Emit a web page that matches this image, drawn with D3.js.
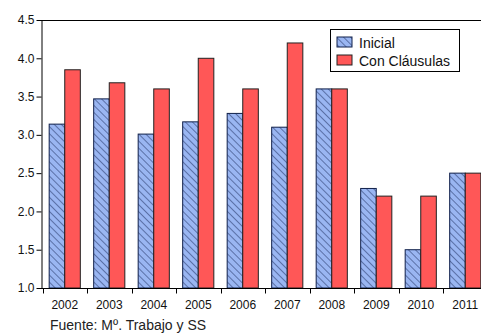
<!DOCTYPE html>
<html>
<head>
<meta charset="utf-8">
<script src="https://cdn.jsdelivr.net/npm/d3@7"></script>
<style>
  html, body { margin: 0; padding: 0; background: #fff; overflow: hidden; }
  svg { display: block; font-family: "Liberation Sans", Arial, sans-serif; }
</style>
</head>
<body>
<script>
// Yearly values for the two series
const years = ["2002","2003","2004","2005","2006","2007","2008","2009","2010","2011"];
const inicial = [3.14, 3.47, 3.01, 3.17, 3.28, 3.10, 3.60, 2.30, 1.50, 2.50];
const conClausulas = [3.85, 3.68, 3.60, 4.00, 3.60, 4.20, 3.60, 2.20, 2.20, 2.50];
const seriesNames = ["Inicial", "Con Cláusulas"];
const yTicks = [1.0, 1.5, 2.0, 2.5, 3.0, 3.5, 4.0, 4.5];

const W = 481, H = 333;
const margin = { left: 41, top: 20, bottom: 45 };
const bandStart = 1.5, bandStep = 44.5;
const plotW = W - margin.left + 10;
const plotH = H - margin.top - margin.bottom;

const svg = d3.select("body").append("svg").attr("width", W).attr("height", H);

// Diagonal hatch for the "Inicial" series
const defs = svg.append("defs");
const pat = defs.append("pattern")
  .attr("id", "hatch").attr("patternUnits", "userSpaceOnUse")
  .attr("width", 5).attr("height", 5)
  .attr("patternTransform", "rotate(45)");
pat.append("rect").attr("width", 5).attr("height", 5).attr("fill", "#9ab6f2");
pat.append("line").attr("x1", 0).attr("y1", 0).attr("x2", 5).attr("y2", 0)
  .attr("stroke", "#1a2a5a").attr("stroke-width", 1);

const g = svg.append("g").attr("transform", `translate(${margin.left},${margin.top})`);

const x = d3.scaleBand().domain(years)
  .range([bandStart, bandStart + bandStep * years.length]).paddingInner(0).paddingOuter(0);
const inner = d3.scaleBand().domain([0, 1]).range([x.bandwidth() * 0.15, x.bandwidth() * 0.85]);
const y = d3.scaleLinear().domain([1.0, 4.5]).range([plotH, 0]);

const rows = years.map((yr, i) => ({ yr, vals: [inicial[i], conClausulas[i]] }));
const fills = ["url(#hatch)", "#ff5757"];
const strokes = ["#10204a", "#222"];

const grp = g.selectAll("g.yr").data(rows).join("g")
  .attr("transform", d => `translate(${x(d.yr)},0)`);
grp.selectAll("rect").data(d => d.vals.map((v, k) => ({ v, k }))).join("rect")
  .attr("x", d => inner(d.k))
  .attr("y", d => y(d.v))
  .attr("width", inner.bandwidth())
  .attr("height", d => plotH - y(d.v))
  .attr("fill", d => fills[d.k])
  .attr("stroke", d => strokes[d.k])
  .attr("stroke-width", 1);

// Frame top line
g.append("line").attr("x1", 0).attr("x2", plotW).attr("y1", 0.5).attr("y2", 0.5)
  .attr("stroke", "#000").attr("stroke-width", 1);

// Y axis
const yAxis = g.append("g").attr("transform", "translate(0.5,0)")
  .call(d3.axisLeft(y).tickValues(yTicks).tickFormat(d3.format(".1f")).tickSize(5).tickSizeOuter(0));
yAxis.select(".domain").attr("stroke", "#000");
yAxis.selectAll("text").attr("font-size", 12).attr("fill", "#111")
  .attr("font-family", "Liberation Sans, Arial, sans-serif").attr("x", -7);

// X axis with ticks at band boundaries
const xAxis = g.append("g").attr("transform", `translate(0,${plotH + 0.5})`);
xAxis.append("line").attr("x1", 0).attr("x2", plotW).attr("stroke", "#000");
xAxis.selectAll("line.tk").data(years.concat(["end"])).join("line").attr("class", "tk")
  .attr("x1", (d, i) => Math.round(bandStart + i * x.step()) + 0.5)
  .attr("x2", (d, i) => Math.round(bandStart + i * x.step()) + 0.5)
  .attr("y1", 0).attr("y2", 5).attr("stroke", "#000");
xAxis.selectAll("text").data(years).join("text")
  .attr("x", d => x(d) + x.bandwidth() / 2)
  .attr("y", 20.5)
  .attr("text-anchor", "middle")
  .attr("font-size", 12).attr("fill", "#111")
  .text(d => d);

// Legend
const leg = svg.append("g").attr("transform", "translate(330.5,29.5)");
leg.append("rect").attr("width", 129).attr("height", 42)
  .attr("fill", "#fff").attr("stroke", "#000");
seriesNames.forEach((name, k) => {
  const row = leg.append("g").attr("transform", `translate(6.5,${7.5 + k * 18})`);
  row.append("rect").attr("width", 15).attr("height", 10)
    .attr("fill", fills[k]).attr("stroke", strokes[k]);
  row.append("text").attr("x", 22).attr("y", 10.5)
    .attr("font-size", 14).attr("fill", "#111").text(name);
});

// Source note
svg.append("text").attr("x", 50).attr("y", 329.5)
  .attr("font-size", 14).attr("fill", "#222")
  .text("Fuente: Mº. Trabajo y SS");
</script>
</body>
</html>
